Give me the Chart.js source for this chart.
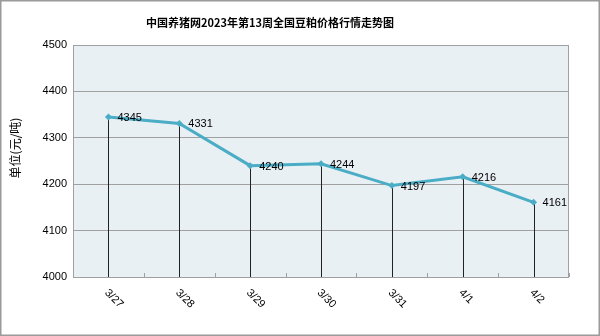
<!DOCTYPE html>
<html>
<head>
<meta charset="utf-8">
<script src="https://cdn.jsdelivr.net/npm/chart.js@4/dist/chart.umd.min.js"></script>
<style>
  body { margin: 0; background: #fff; }
  #wrap { width: 600px; height: 336px; }
</style>
</head>
<body>
<div id="wrap"><canvas id="priceChart" width="600" height="336"></canvas></div>
<script>
const titleText = "中国养猪网2023年第13周全国豆粕价格行情走势图";
const yTitle = "单位(元/吨)";
const dates = ["3/27", "3/28", "3/29", "3/30", "3/31", "4/1", "4/2"];
const prices = [4345, 4331, 4240, 4244, 4197, 4216, 4161];
const yMin = 4000;
const yMax = 4500;
const yStep = 100;

const lineColor = "rgb(75, 172, 198)";
const numFont = "'Liberation Sans', Arial, sans-serif";
const cjkFont = "'Noto Sans CJK SC', sans-serif";

// frame, plot background, title, axis title
const backdrop = {
  id: "backdrop",
  beforeDraw(chart) {
    const { ctx, chartArea: a } = chart;
    ctx.save();
    ctx.fillStyle = "#fff";
    ctx.fillRect(0, 0, chart.width, chart.height);
    ctx.fillStyle = "#E9F0F4";
    ctx.fillRect(a.left, a.top, a.right - a.left, a.bottom - a.top);
    ctx.strokeStyle = "#9a9a9a";
    ctx.lineWidth = 1.5;
    ctx.strokeRect(0.75, 0.75, chart.width - 1.5, chart.height - 1.5);

    ctx.fillStyle = "#000";
    ctx.font = "bold 11px " + cjkFont;
    ctx.textAlign = "center";
    ctx.textBaseline = "middle";
    ctx.fillText(titleText, 270, 23);

    ctx.translate(15, 148);
    ctx.rotate(-Math.PI / 2);
    ctx.font = "12px " + cjkFont;
    ctx.fillText(yTitle, 0, 0);
    ctx.restore();
  },
  afterDraw(chart) {
    const { ctx, chartArea: a, scales } = chart;
    const xs = scales.x, ys = scales.y;
    ctx.save();
    // plot border
    ctx.strokeStyle = "#a0a0a0";
    ctx.lineWidth = 1;
    ctx.strokeRect(a.left + 0.5, a.top + 0.5, a.right - a.left - 1, a.bottom - a.top);
    // small ticks at category boundaries
    ctx.beginPath();
    for (let i = 0; i <= dates.length; i++) {
      const x = Math.round(xs.getPixelForValue(i - 0.5)) + 0.5;
      ctx.moveTo(x, a.bottom);
      ctx.lineTo(x, a.bottom - 4);
    }
    ctx.stroke();
    // x labels, slanted downward
    ctx.fillStyle = "#000";
    ctx.font = "11px " + numFont;
    ctx.textAlign = "left";
    ctx.textBaseline = "middle";
    dates.forEach((d, i) => {
      const x = xs.getPixelForValue(i);
      ctx.save();
      ctx.translate(x - 2, a.bottom + 14);
      ctx.rotate(Math.PI / 4);
      ctx.fillText(d, 0, 0);
      ctx.restore();
    });
    // value labels
    prices.forEach((v, i) => {
      ctx.fillText(String(v), xs.getPixelForValue(i) + 9, ys.getPixelForValue(v) + 1);
    });
    ctx.restore();
  }
};

// vertical drop lines from each point to the axis
const dropLines = {
  id: "dropLines",
  beforeDatasetsDraw(chart) {
    const { ctx, chartArea: a, scales } = chart;
    ctx.save();
    ctx.strokeStyle = "#222";
    ctx.lineWidth = 1;
    ctx.beginPath();
    prices.forEach((v, i) => {
      const x = Math.round(scales.x.getPixelForValue(i)) + 0.5;
      ctx.moveTo(x, scales.y.getPixelForValue(v));
      ctx.lineTo(x, a.bottom);
    });
    ctx.stroke();
    ctx.restore();
  }
};

new Chart(document.getElementById("priceChart"), {
  type: "line",
  data: {
    labels: dates,
    datasets: [{
      data: prices,
      borderColor: lineColor,
      backgroundColor: lineColor,
      borderWidth: 3,
      tension: 0,
      pointStyle: "rectRot",
      pointRadius: 3.5,
      pointHoverRadius: 3.5,
      pointBorderWidth: 0
    }]
  },
  options: {
    responsive: false,
    animation: false,
    layout: { padding: { left: 0, top: 45, right: 31, bottom: 0 } },
    plugins: {
      legend: { display: false },
      title: { display: false },
      tooltip: { enabled: false }
    },
    scales: {
      x: {
        offset: true,
        grid: { display: false },
        border: { display: false },
        ticks: { display: false },
        afterFit(scale) { scale.height = 59; }
      },
      y: {
        min: yMin,
        max: yMax,
        ticks: {
          stepSize: yStep,
          color: "#000",
          padding: 6,
          font: { family: numFont, size: 11 },
          callback: (v) => String(v)
        },
        grid: { color: "#a0a0a0", drawTicks: false },
        border: { display: false },
        afterFit(scale) { scale.width = 73; }
      }
    }
  },
  plugins: [backdrop, dropLines]
});
</script>
</body>
</html>
